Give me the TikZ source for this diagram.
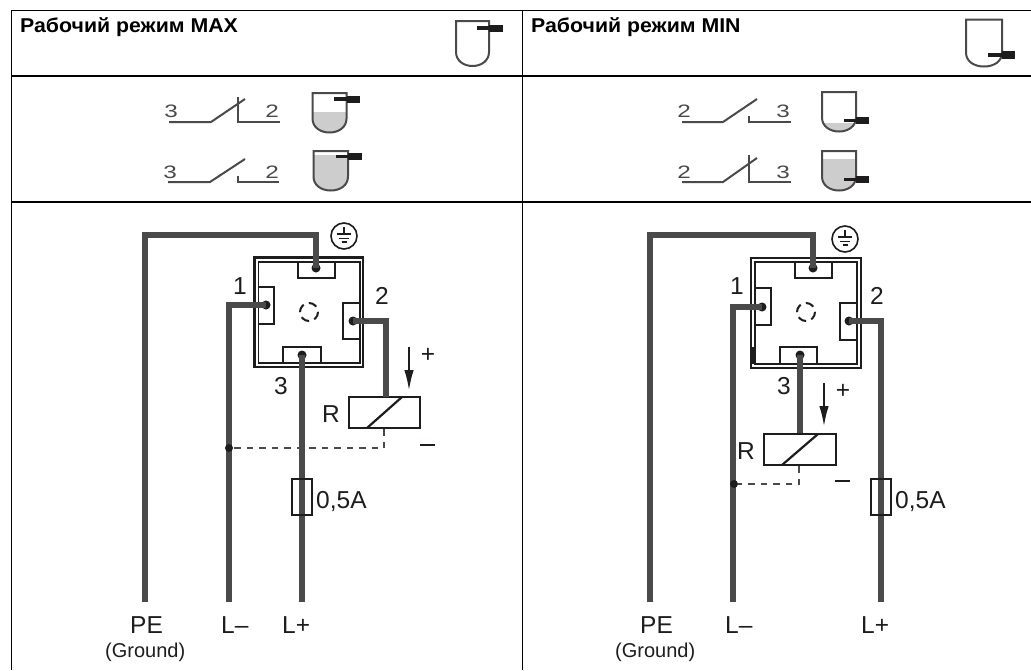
\documentclass[tikz,border=0pt]{standalone}
\usepackage{fontspec}
\setmainfont{Liberation Sans}
\usetikzlibrary{arrows.meta}
\definecolor{wirec}{HTML}{4A4A4A}
\definecolor{inkc}{HTML}{1E1C1C}
\definecolor{levelc}{HTML}{CDCDCE}
\tikzset{
  wire/.style={draw=wirec,line width=5.2pt,line join=miter},
  frame/.style={draw=inkc,line width=2.2pt},
  framein/.style={draw=inkc,line width=1.9pt},
  term/.style={draw=inkc,line width=2.2pt},
  tdot/.style={circle,fill=inkc,inner sep=0pt,minimum size=9pt},
  jdot/.style={circle,fill=inkc,inner sep=0pt,minimum size=8pt},
  dashw/.style={draw=wirec,line width=2.7pt,dash pattern=on 6.5pt off 6pt},
  relay/.style={draw=inkc,line width=2.2pt},
  fuse/.style={draw=inkc,line width=2pt},
  lbl/.style={inner sep=0pt,anchor=base west,font=\fontsize{24.5}{26}\selectfont,text=inkc},
  small/.style={inner sep=0pt,anchor=base west,font=\fontsize{20}{22}\selectfont,text=inkc},
  head/.style={inner sep=0pt,anchor=base west,font=\fontsize{20}{22}\selectfont\bfseries,text=black,transform shape,xscale=1.065},
  swnum/.style={inner sep=0pt,anchor=base west,font=\fontsize{18}{19}\selectfont,text=wirec,transform shape,xscale=1.35},
  swline/.style={draw=wirec,line width=2pt},
  grid/.style={draw=black,line width=1.1pt},
  tankline/.style={draw=wirec,line width=2pt},
  arr/.style={draw=inkc,line width=1.5pt,-{Latex[length=20pt,width=9.5pt]}},
  ringc/.style={draw=inkc,line width=2pt,dash pattern=on 8.5pt off 5.5pt},
  gring/.style={circle,draw=inkc,line width=1.6pt,minimum size=26pt,inner sep=0pt},
  gbar/.style={draw=inkc,line width=1.5pt},
  minus/.style={draw=inkc,line width=2pt},
}
% tank: #1 left, #2 right, #3 top, #4 bottom, #5 level (or none), #6 stub start, #7 stub y, #8 block end, #9 block half height
\newcommand{\tankicon}[9]{%
  \def\tkshape{(#1,#3) -- (#2,#3) -- (#2,#4-14) .. controls (#2,#4-5) and (#2-8,#4) .. ({(#1+#2)/2},#4) .. controls (#1+8,#4) and (#1,#4-5) .. (#1,#4-14) -- cycle}%
  \ifx\relax#5\relax\else
    \begin{scope}
      \clip (#1,#5) rectangle (#2,#4+1);
      \fill[levelc] \tkshape;
    \end{scope}
  \fi
  \draw[tankline] \tkshape;
  \fill[inkc] (#6,#7-1.8) rectangle (#2,#7+1.8);
  \fill[inkc] (#2,#7-#9) rectangle (#8,#7+#9);
}
\begin{document}
\begin{tikzpicture}[x=1pt,y=-1pt]
\useasboundingbox (0,0) rectangle (1031,670);
\fill[white] (0,0) rectangle (1031,670);
% table
\draw[grid] (11.5,670) -- (11.5,10.5) -- (1031,10.5);
\draw[grid] (11.5,76) -- (1031,76);
\draw[grid] (11.5,202) -- (1031,202);
\draw[grid] (522.5,10.5) -- (522.5,670);
\node[head] (hmax) at (20,32) {Рабочий режим MAX};
\node[head] (hmin) at (531,32) {Рабочий режим MIN};
% header tanks
\tankicon{456}{489}{21}{66}{}{477}{28}{503}{3.5}
\tankicon{966}{1002}{19.5}{66.5}{}{988}{55}{1015}{4}
% row tanks
\tankicon{312.5}{346.5}{93}{132.5}{112}{334}{99}{360}{3.5}
\tankicon{313.5}{348}{151}{190.5}{155}{336}{156.5}{362}{3.5}
\tankicon{822}{856}{92}{131.5}{123}{844}{120.5}{869}{3.5}
\tankicon{822}{856}{151}{190.5}{159}{844}{179.5}{869}{3.5}
% switches, left
\node[swnum] (s1a) at (164,117) {3};
\node[swnum] (s1b) at (265,117) {2};
\draw[swline] (169,122) -- (211,122) -- (245,99);
\draw[swline] (238,97) -- (238,122) -- (280,122);
\node[swnum] (s2a) at (163,178) {3};
\node[swnum] (s2b) at (265,178) {2};
\draw[swline] (168,182) -- (210,182) -- (245,159);
\draw[swline] (238,176) -- (238,182) -- (279,182);
% switches, right
\node[swnum] (s3a) at (677,117) {2};
\node[swnum] (s3b) at (776,117) {3};
\draw[swline] (682,122) -- (723,122) -- (757,99);
\draw[swline] (749,116) -- (749,122) -- (791,122);
\node[swnum] (s4a) at (677,178) {2};
\node[swnum] (s4b) at (776,178) {3};
\draw[swline] (682,182) -- (723,182) -- (757,158);
\draw[swline] (749,155) -- (749,182) -- (791,182);
%%%%% LEFT WIRING
\draw[frame] (254.5,257.5) rectangle (363,367);
\draw[framein] (258.5,262) rectangle (360,363);
\draw[term] (298,262) -- (298,278) -- (335,278) -- (335,262);
\draw[term] (259,287) -- (274,287) -- (274,324) -- (259,324);
\draw[term] (360,303) -- (343,303) -- (343,339) -- (360,339);
\draw[term] (283,363) -- (283,347) -- (321,347) -- (321,363);
\draw[ringc] (309,312) circle (9);
% ground
\node[gring] (gnd1) at (344,236) {};
\draw[gbar] (344,227) -- (344,234) (337,234) -- (351,234) (339,238.5) -- (349,238.5) (341.5,242) -- (346.5,242);
% relay, fuse
\node[relay,minimum width=71pt,minimum height=31pt,inner sep=0pt,fill=white] (r1) at (384.5,412.5) {};
\draw[relay] (367,428) -- (402,397);
\coordinate (pe1c) at (145,235);
\coordinate (pe1t) at (316,235);
\coordinate (pe1b) at (145,601.5);
\coordinate (lm1c) at (229,305);
\coordinate (lm1b) at (229,601.5);
\coordinate (lp1b) at (302,601.5);
\coordinate (rl1c) at (386,321);
\coordinate (rl1e) at (386,397);
\node[tdot] (d1t) at (316,268) {};
\node[tdot] (d1l) at (266,305) {};
\node[tdot] (d1r) at (353,321) {};
\node[tdot] (d1b) at (302,355) {};
\draw[wire] (pe1b) -- (pe1c) -- (pe1t) -- (d1t.center);
\draw[wire] (lm1b) -- (lm1c) -- (d1l.center);
\draw[wire] (lp1b) -- (d1b.center);
\draw[wire] (d1r.center) -- (rl1c) -- (rl1e);
\node[jdot] (j1) at (229,448) {};
\coordinate (k1) at (384,448);
\coordinate (k1t) at (384,429);
\draw[dashw] (k1t) -- (k1) -- (j1);
\node[fuse,minimum width=20pt,minimum height=36pt,inner sep=0pt] (f1) at (302,497) {};
\node[lbl] (lt1) at (233,294.5) {1};
\node[lbl] (lt2) at (375,304) {2};
\node[lbl] (lt3) at (274,394.5) {3};
\node[lbl] (lr1) at (322,422) {R};
\node[lbl] (a1) at (316,508) {0,5A};
\node[lbl] (p1) at (130,633) {PE};
\node[small] (g1) at (105,657) {(Ground)};
\node[lbl] (m1) at (221,633) {L–};
\node[lbl] (q1) at (282,633) {L+};
\coordinate (ar1a) at (409,347);
\coordinate (ar1b) at (409,390);
\draw[arr] (ar1a) -- (ar1b);
\node[lbl,anchor=center] (pl1) at (428,355) {+};
\coordinate (mn1a) at (420,445);
\coordinate (mn1b) at (435,445);
\draw[minus] (mn1a) -- (mn1b);
%%%%% RIGHT WIRING
\draw[frame] (751,258) rectangle (861,368);
\draw[framein] (755,262) rectangle (857,364);
\draw[term] (795,262) -- (795,278) -- (832,278) -- (832,262);
\draw[term] (756,288) -- (771,288) -- (771,325) -- (756,325);
\draw[term] (857,303) -- (840,303) -- (840,340) -- (857,340);
\draw[term] (780,364) -- (780,347) -- (817,347) -- (817,364);
\fill[inkc] (751.5,347) rectangle (755.5,364);
\draw[ringc] (806,312) circle (9);
\node[gring] (gnd2) at (845,239) {};
\draw[gbar] (845,230) -- (845,237) (838,237) -- (852,237) (840,241.5) -- (850,241.5) (842.5,245) -- (847.5,245);
\node[relay,minimum width=72pt,minimum height=31pt,inner sep=0pt,fill=white] (r2) at (800,449.5) {};
\draw[relay] (782,465) -- (818,434);
\coordinate (pe2c) at (650,235);
\coordinate (pe2t) at (813,235);
\coordinate (pe2b) at (650,601.5);
\coordinate (lm2c) at (733,307);
\coordinate (lm2b) at (733,601.5);
\coordinate (lp2c) at (881,321);
\coordinate (lp2b) at (881,601.5);
\node[tdot] (d2t) at (813,268) {};
\node[tdot] (d2l) at (762,307) {};
\node[tdot] (d2r) at (849,321) {};
\node[tdot] (d2b) at (800,355) {};
\draw[wire] (pe2b) -- (pe2c) -- (pe2t) -- (d2t.center);
\draw[wire] (lm2b) -- (lm2c) -- (d2l.center);
\draw[wire] (lp2b) -- (lp2c) -- (d2r.center);
\draw[wire] (d2b.center) -- (r2.north);
\node[jdot] (j2) at (734,484) {};
\coordinate (k2) at (799,484);
\coordinate (k2t) at (799,466);
\draw[dashw] (k2t) -- (k2) -- (j2);
\node[fuse,minimum width=20pt,minimum height=36pt,inner sep=0pt] (f2) at (880.5,497) {};
\node[lbl] (rt1) at (730,294.5) {1};
\node[lbl] (rt2) at (870,304) {2};
\node[lbl] (rt3) at (777,394) {3};
\node[lbl] (rr1) at (737,459) {R};
\node[lbl] (a2) at (895,508) {0,5A};
\node[lbl] (p2) at (640,633) {PE};
\node[small] (g2) at (615,657) {(Ground)};
\node[lbl] (m2) at (725,633) {L–};
\node[lbl] (q2) at (861,633) {L+};
\coordinate (ar2a) at (824,383);
\coordinate (ar2b) at (824,426);
\draw[arr] (ar2a) -- (ar2b);
\node[lbl,anchor=center] (pl2) at (843,391) {+};
\coordinate (mn2a) at (835,481);
\coordinate (mn2b) at (850,481);
\draw[minus] (mn2a) -- (mn2b);
\end{tikzpicture}
\end{document}
